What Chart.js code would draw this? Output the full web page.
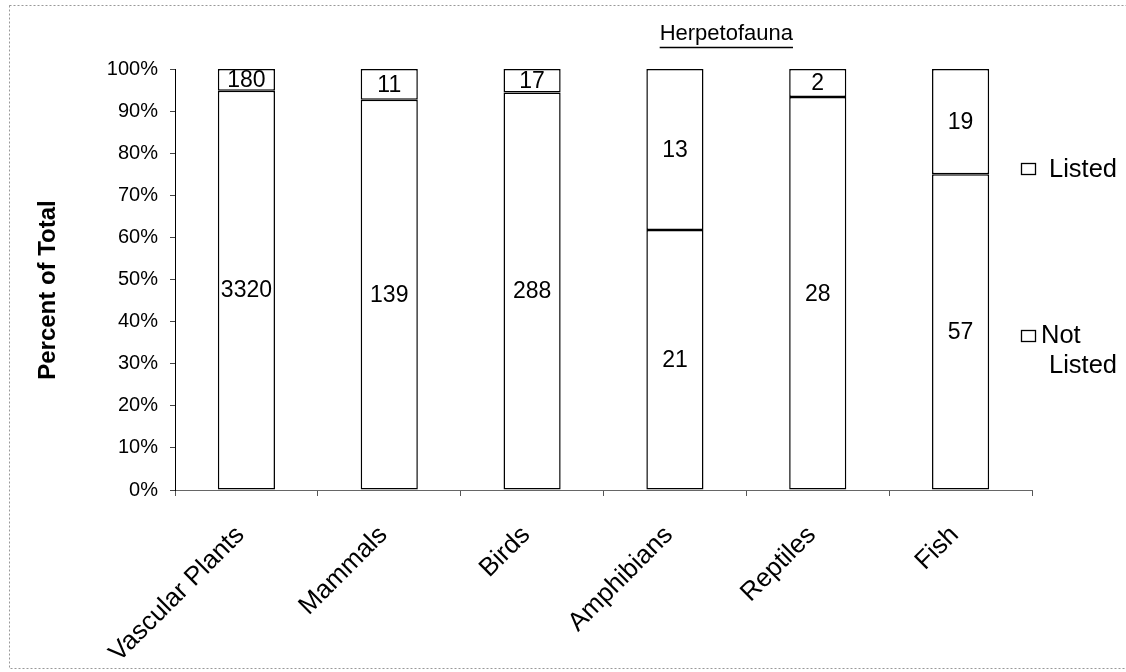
<!DOCTYPE html>
<html>
<head>
<meta charset="utf-8">
<script src="https://cdn.jsdelivr.net/npm/chart.js@4"></script>
<style>
  html, body { margin: 0; padding: 0; background: #fff; }
  #wrap { width: 1126px; height: 672px; }
</style>
</head>
<body>
<div id="wrap"><canvas id="chart" width="1126" height="672"></canvas></div>
<script>
// ---- DATA ----
const categories = ['Vascular Plants', 'Mammals', 'Birds', 'Amphibians', 'Reptiles', 'Fish'];
const notListed  = [3320, 139, 288, 21, 28, 57];
const listed     = [180, 11, 17, 13, 2, 19];
const seriesNames = ['Not Listed', 'Listed'];
const yTitle = 'Percent of Total';
const groupLabel = 'Herpetofauna';
const groupMembers = ['Amphibians', 'Reptiles'];

const FONT = "'Liberation Sans', Arial, sans-serif";

// 100% stacked: share of each count in its category
const totals = notListed.map((v, i) => v + listed[i]);
const notListedPct = notListed.map((v, i) => v / totals[i] * 100);
const listedPct    = listed.map((v, i) => v / totals[i] * 100);
const counts = [notListed, listed];

// ---- PLUGINS ----
const segmentLabels = {
  id: 'segmentLabels',
  afterDatasetsDraw(chart) {
    const ctx = chart.ctx;
    ctx.save();
    ctx.fillStyle = '#000';
    ctx.font = `23px ${FONT}`;
    ctx.textAlign = 'center';
    ctx.textBaseline = 'middle';
    chart.data.datasets.forEach((ds, di) => {
      chart.getDatasetMeta(di).data.forEach((bar, i) => {
        const mid = (bar.y + bar.base) / 2;
        ctx.fillText(String(counts[di][i]), bar.x, mid + 1);
      });
    });
    ctx.restore();
  }
};

const decorations = {
  id: 'decorations',
  afterDraw(chart) {
    const ctx = chart.ctx;
    const x = chart.scales.x;
    ctx.save();

    // dotted frame
    ctx.strokeStyle = '#999';
    ctx.lineWidth = 1;
    ctx.setLineDash([2, 2]);
    ctx.strokeRect(9.5, 5.5, 1130, 663);
    ctx.setLineDash([]);
    ctx.strokeStyle = '#000';

    // y axis title
    ctx.save();
    ctx.translate(48, 290);
    ctx.rotate(-Math.PI / 2);
    ctx.fillStyle = '#000';
    ctx.font = `bold 24px ${FONT}`;
    ctx.textAlign = 'center';
    ctx.textBaseline = 'middle';
    ctx.fillText(yTitle, 0, 0);
    ctx.restore();

    // group label over the herpetofauna bars
    const a = x.getPixelForValue(categories.indexOf(groupMembers[0]));
    const b = x.getPixelForValue(categories.indexOf(groupMembers[1]));
    const cx = (a + b) / 2 - 20;
    ctx.fillStyle = '#000';
    ctx.font = `22px ${FONT}`;
    ctx.textAlign = 'center';
    ctx.textBaseline = 'middle';
    ctx.fillText(groupLabel, cx, 34);
    const w = ctx.measureText(groupLabel).width;
    ctx.beginPath();
    ctx.lineWidth = 1.5;
    ctx.moveTo(cx - w / 2, 47.5);
    ctx.lineTo(cx + w / 2, 47.5);
    ctx.stroke();

    // legend
    ctx.font = `25.5px ${FONT}`;
    ctx.textAlign = 'left';
    ctx.lineWidth = 1.3;
    ctx.strokeRect(1021.5, 163.5, 14, 11);
    ctx.fillText(seriesNames[1], 1049, 170);
    ctx.strokeRect(1021.5, 330.5, 14, 11);
    ctx.fillText('Not', 1041, 336);
    ctx.fillText('Listed', 1049, 366);
    ctx.restore();
  }
};

// ---- CHART ----
new Chart(document.getElementById('chart'), {
  type: 'bar',
  data: {
    labels: categories,
    datasets: [
      {
        label: seriesNames[0],
        data: notListedPct,
        backgroundColor: '#fff',
        borderColor: '#000',
        borderWidth: 1.5,
        borderSkipped: false,
      },
      {
        label: seriesNames[1],
        data: listedPct,
        backgroundColor: '#fff',
        borderColor: '#000',
        borderWidth: 1.5,
        borderSkipped: false,
      }
    ]
  },
  options: {
    responsive: false,
    animation: false,
    categoryPercentage: 0.8,
    barPercentage: 0.5,
    layout: { padding: { top: 69, right: 94, left: 0, bottom: 0 } },
    plugins: {
      legend: { display: false },
      tooltip: { enabled: false }
    },
    scales: {
      x: {
        stacked: true,
        afterFit: s => { s.height = 182; },
        grid: { display: true, drawOnChartArea: false, drawTicks: true, tickLength: 6, color: '#555' },
        border: { display: true, color: '#666', width: 1, dash: [2, 2] },
        ticks: {
          color: '#000',
          font: { family: FONT, size: 26 },
          minRotation: 45,
          maxRotation: 45,
          autoSkip: false,
          labelOffset: -6,
          padding: 24
        }
      },
      y: {
        stacked: true,
        min: 0,
        max: 100,
        afterFit: s => { s.width = 175; },
        grid: { display: true, drawOnChartArea: false, drawTicks: true, tickLength: 5, color: '#444' },
        border: { display: true, color: '#000', width: 1 },
        ticks: {
          stepSize: 10,
          color: '#000',
          padding: 12,
          font: { family: FONT, size: 20 },
          callback: v => v + '%'
        }
      }
    }
  },
  plugins: [segmentLabels, decorations]
});
</script>
</body>
</html>
